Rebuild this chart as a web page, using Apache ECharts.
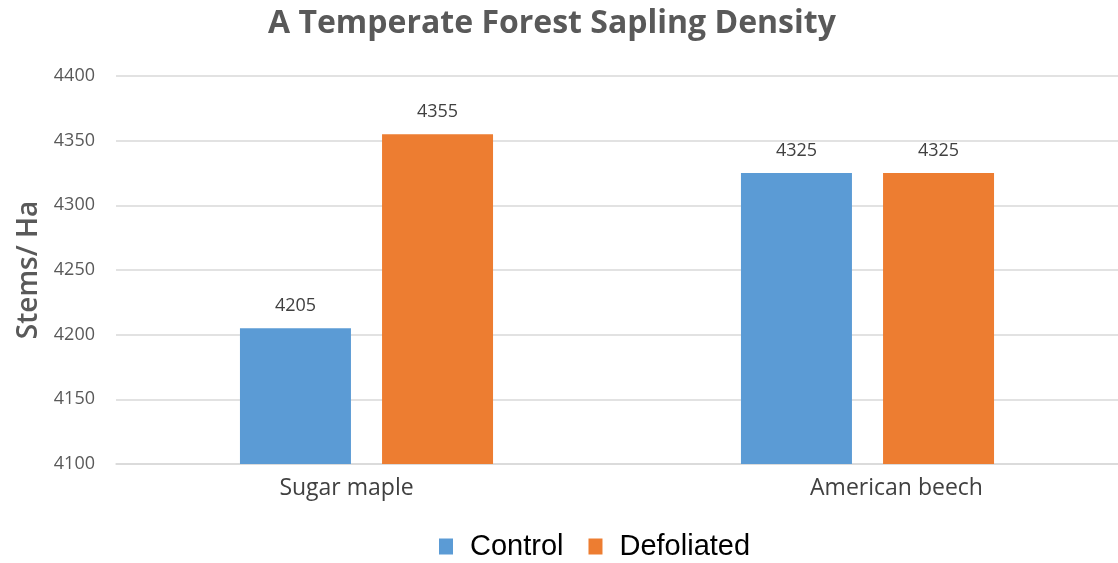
<!DOCTYPE html>
<html>
<head>
<meta charset="utf-8"/>
<title>A Temperate Forest Sapling Density</title>
<script src="https://cdn.jsdelivr.net/npm/echarts@6/dist/echarts.min.js"></script>
<style>
html,body{margin:0;padding:0;background:#fff;}
#main{width:1118px;height:563px;}
</style>
</head>
<body>
<div id="main"></div>
<script type="text/javascript">
var categories = ['Sugar maple', 'American beech'];
var control = [4205, 4325];
var defoliated = [4355, 4325];

var myChart = echarts.init(document.getElementById('main'));
var option = {
    animation: false,
    title: {
        text: 'A Temperate Forest Sapling Density',
        left: 263,
        top: 3,
        textStyle: {
            fontFamily: 'Open Sans',
            fontWeight: 'bold',
            color: '#595959',
            fontSize: 32
        }
    },
    grid: {
        left: 116,
        right: 0,
        top: 76,
        bottom: 99
    },
    legend: {
        top: 527,
        left: 434,
        itemWidth: 14,
        itemHeight: 16,
        itemGap: 25,
        icon: 'rect',
        textStyle: {
            fontFamily: 'Liberation Sans',
            fontSize: 29,
            color: '#000',
            padding: [0, 0, 0, 12]
        },
        data: ['Control', 'Defoliated']
    },
    xAxis: {
        type: 'category',
        data: categories,
        axisTick: {show: false},
        axisLine: {lineStyle: {color: '#d9d9d9', width: 1.5}},
        axisLabel: {
            margin: 13,
            formatter: function (v, i) { return i === 0 ? '{a|' + v + '}' : '{b|' + v + '}'; },
            rich: {
                a: {fontFamily: 'Open Sans', fontSize: 23, color: '#404040', padding: [0, 40, 0, 0]},
                b: {fontFamily: 'Open Sans', fontSize: 23, color: '#404040', padding: [0, 0, 0, 58]}
            }
        }
    },
    yAxis: {
        type: 'value',
        min: 4100,
        max: 4400,
        interval: 50,
        name: 'Stems/ Ha',
        nameLocation: 'middle',
        nameGap: 70,
        nameTextStyle: {
            fontFamily: 'Open Sans',
            fontSize: 28,
            fontWeight: 600,
            color: '#595959'
        },
        axisLabel: {
            margin: 21,
            fontFamily: 'Open Sans',
            fontSize: 18,
            color: '#595959',
            formatter: function (v) { return String(v); }
        },
        splitLine: {lineStyle: {color: '#d9d9d9', width: 1.5}}
    },
    series: [
        {
            name: 'Control',
            type: 'bar',
            data: control,
            barWidth: 111,
            barGap: '28%',
            itemStyle: {color: '#5b9bd5'},
            label: {
                show: true,
                position: 'top',
                distance: 13,
                fontFamily: 'Open Sans',
                fontSize: 18,
                color: '#404040'
            }
        },
        {
            name: 'Defoliated',
            type: 'bar',
            data: defoliated,
            barWidth: 111,
            barGap: '28%',
            itemStyle: {color: '#ed7d31'},
            label: {
                show: true,
                position: 'top',
                distance: 13,
                fontFamily: 'Open Sans',
                fontSize: 18,
                color: '#404040'
            }
        }
    ]
};
myChart.setOption(option);
</script>
</body>
</html>
